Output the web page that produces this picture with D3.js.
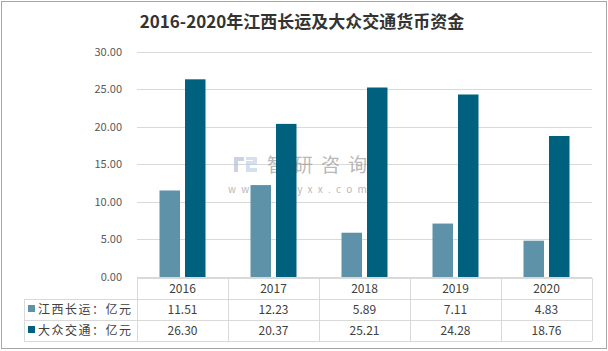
<!DOCTYPE html>
<html>
<head>
<meta charset="utf-8">
<script src="https://cdn.jsdelivr.net/npm/d3@7.9.0/dist/d3.min.js"></script>
<style>
  body { margin: 0; background: #fff; }
  svg { display: block; font-family: "Microsoft YaHei", "Noto Sans CJK SC", sans-serif; }
</style>
</head>
<body>
<svg id="chart" width="608" height="351"></svg>
<script>
// data
const years = ["2016", "2017", "2018", "2019", "2020"];
const seriesNames = ["江西长运：亿元", "大众交通：亿元"];
const jiangxi = [11.51, 12.23, 5.89, 7.11, 4.83];
const dazhong = [26.30, 20.37, 25.21, 24.28, 18.76];
const yTicks = [0, 5, 10, 15, 20, 25, 30];

const colors = ["#5e92a8", "#00617f"];
const series = [jiangxi, dazhong];

const svg = d3.select("#chart");
const W = 608, H = 351;

// outer frame
svg.append("rect")
  .attr("x", 1.5).attr("y", 1.5)
  .attr("width", W - 3).attr("height", H - 4)
  .attr("fill", "#fff")
  .attr("stroke", "#a6a6a6");

// title
svg.append("text")
  .attr("x", 302).attr("y", 28)
  .attr("text-anchor", "middle")
  .style("font-size", "17px")
  .style("font-weight", "bold")
  .attr("fill", "#333")
  .text("2016-2020年江西长运及大众交通货币资金");

// scales
const x = d3.scaleBand().domain(years).range([137, 592]);
const y = d3.scaleLinear().domain([0, 30]).range([277, 51.5]);

// gridlines
svg.append("g").selectAll("line")
  .data(yTicks)
  .join("line")
  .attr("x1", x.range()[0]).attr("x2", x.range()[1])
  .attr("y1", d => Math.round(y(d)) + 0.5)
  .attr("y2", d => Math.round(y(d)) + 0.5)
  .attr("stroke", "#d9d9d9");

// y axis labels
svg.append("g").selectAll("text")
  .data(yTicks)
  .join("text")
  .attr("x", 122)
  .attr("y", d => y(d) + 4)
  .attr("text-anchor", "end")
  .style("font-size", "11px")
  .attr("fill", "#595959")
  .text(d => d.toFixed(2));

// watermark (sits behind the bars)
const wm = svg.append("g").attr("opacity", 0.6);
wm.append("path")
  .attr("d", "M234,157h10v4h-6v11h-4z")
  .attr("fill", "#aab6d2");
wm.append("path")
  .attr("d", "M246,157h11v8h-7v3h7v4h-11v-11h7v-1h-7z")
  .attr("fill", "#b8cce6");
wm.append("text")
  .attr("x", 267).attr("y", 172)
  .style("font-size", "19px")
  .style("letter-spacing", "8px")
  .attr("fill", "#8a8a8a")
  .text("智研咨询");
wm.append("text")
  .attr("x", 228).attr("y", 193)
  .style("font-size", "10px")
  .style("letter-spacing", "5.3px")
  .attr("fill", "#8a8a8a")
  .text("www.chyxx.com");

// bars
const barW = 20.5, gap = 5;
series.forEach((vals, i) => {
  svg.append("g").selectAll("rect")
    .data(vals)
    .join("rect")
    .attr("x", (d, j) => x(years[j]) + x.bandwidth() / 2 - barW - gap / 2 + i * (barW + gap))
    .attr("y", d => y(d))
    .attr("width", barW)
    .attr("height", d => y(0) - y(d))
    .attr("fill", colors[i]);
});

// data table
const rowY = [278, 299, 320, 341];
const tableLeft = 24;
const grid = svg.append("g").attr("stroke", "#d9d9d9").attr("shape-rendering", "crispEdges");
// horizontal lines
grid.append("line").attr("x1", x.range()[0]).attr("x2", x.range()[1]).attr("y1", rowY[0]).attr("y2", rowY[0]);
rowY.slice(1).forEach(yy => {
  grid.append("line").attr("x1", tableLeft).attr("x2", x.range()[1]).attr("y1", yy).attr("y2", yy);
});
// vertical lines
grid.append("line").attr("x1", tableLeft).attr("x2", tableLeft).attr("y1", rowY[1]).attr("y2", rowY[3]);
years.forEach(yr => {
  grid.append("line").attr("x1", x(yr)).attr("x2", x(yr)).attr("y1", rowY[0]).attr("y2", rowY[3]);
});
grid.append("line").attr("x1", x.range()[1]).attr("x2", x.range()[1]).attr("y1", rowY[0]).attr("y2", rowY[3]);

// header row
svg.append("g").selectAll("text")
  .data(years)
  .join("text")
  .attr("x", d => x(d) + x.bandwidth() / 2)
  .attr("y", (rowY[0] + rowY[1]) / 2 + 4.5)
  .attr("text-anchor", "middle")
  .style("font-size", "12px")
  .attr("fill", "#404040")
  .text(d => d);

// value rows
series.forEach((vals, i) => {
  const cy = (rowY[i + 1] + rowY[i + 2]) / 2 + 4.5;
  svg.append("g").selectAll("text")
    .data(vals)
    .join("text")
    .attr("x", (d, j) => x(years[j]) + x.bandwidth() / 2)
    .attr("y", cy)
    .attr("text-anchor", "middle")
    .style("font-size", "12px")
    .attr("fill", "#404040")
    .text(d => d.toFixed(2));

  svg.append("rect")
    .attr("x", 28).attr("y", cy - 9)
    .attr("width", 7).attr("height", 7)
    .attr("fill", colors[i]);
  svg.append("text")
    .attr("x", 38).attr("y", cy)
    .style("font-size", "12px")
    .style("letter-spacing", "1.5px")
    .attr("fill", "#404040")
    .text(seriesNames[i]);
});
</script>
</body>
</html>
